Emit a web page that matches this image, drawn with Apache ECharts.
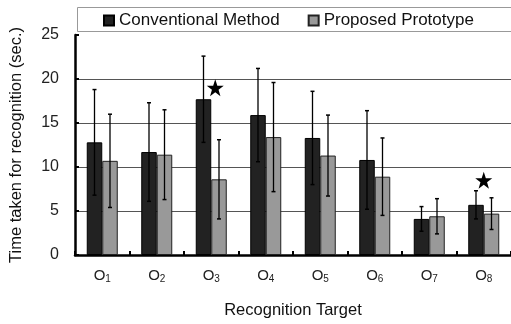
<!DOCTYPE html>
<html><head><meta charset="utf-8">
<script src="https://cdn.jsdelivr.net/npm/echarts@6/dist/echarts.min.js"></script>
<style>html,body{margin:0;padding:0;background:#fff}#c{width:511px;height:324px}</style>
</head><body><div id="c"></div>
<script>
var categories = ['1','2','3','4','5','6','7','8'];
var conventional = [12.8, 11.7, 17.7, 15.9, 13.3, 10.8, 4.1, 5.7];
var conventionalErr = [6.0, 5.6, 4.9, 5.3, 5.3, 5.6, 1.4, 1.6];
var proposed = [10.7, 11.4, 8.6, 13.4, 11.3, 8.9, 4.4, 4.7];
var proposedErr = [5.3, 5.1, 4.5, 6.2, 4.6, 4.4, 2.0, 1.8];
var stars = [['3', 19.0], ['8', 8.5]];
var yTicks = [0, 5, 10, 15, 20, 25];

var FONT = '"Liberation Sans", Arial, sans-serif';
var BW = 15.5;

function errSeries(name, vals, errs, off) {
  return {
    type: 'custom', name: name + ' err', silent: true, z: 5,
    renderItem: function (params, api) {
      var i = api.value(0);
      var v = api.value(1), e = api.value(2);
      var top = api.coord([i, v + e]);
      var bot = api.coord([i, v - e]);
      var x = top[0] + off;
      return {
        type: 'group', children: [
          {type: 'line', shape: {x1: x, y1: top[1], x2: x, y2: bot[1]}, style: {stroke: '#000', lineWidth: 1.3}},
          {type: 'line', shape: {x1: x - 2, y1: top[1], x2: x + 2, y2: top[1]}, style: {stroke: '#000', lineWidth: 1.5}},
          {type: 'line', shape: {x1: x - 2, y1: bot[1], x2: x + 2, y2: bot[1]}, style: {stroke: '#000', lineWidth: 1.5}}
        ]
      };
    },
    data: vals.map(function (v, i) { return [i, v, errs[i]]; })
  };
}

var chart = echarts.init(document.getElementById('c'));
chart.setOption({
  animation: false,
  textStyle: {fontFamily: FONT},
  graphic: [{type: 'rect', left: 75, top: 5, shape: {width: 450, height: 24}, style: {fill: 'none', stroke: '#999', lineWidth: 1}}],
  legend: {
    left: 98, top: 7, itemWidth: 10, itemHeight: 10, itemGap: 28,
    textStyle: {fontFamily: FONT, fontSize: 17, color: '#111'},
    data: [{name: 'Conventional Method', icon: 'rect'}, {name: 'Proposed Prototype', icon: 'rect'}]
  },
  grid: {left: 73, top: 35, width: 440, height: 224},
  xAxis: {
    type: 'category', data: categories,
    axisLine: {lineStyle: {color: '#000', width: 2.5}},
    axisTick: {show: true, inside: true, length: 4, lineStyle: {color: '#000', width: 2}},
    axisLabel: {
      margin: 13, color: '#222',
      formatter: function (v) { return 'O{s|' + v + '}'; },
      rich: {s: {fontSize: 10, verticalAlign: 'bottom', padding: [6, 0, 0, 0], fontFamily: FONT}},
      fontSize: 15, fontFamily: FONT
    },
    name: 'Recognition Target', nameLocation: 'middle', nameGap: 47,
    nameTextStyle: {fontSize: 16.5, color: '#111', fontFamily: FONT}
  },
  yAxis: {
    type: 'value', min: 0, max: 25, interval: 5,
    axisLine: {show: true, lineStyle: {color: '#000', width: 2.5}},
    axisTick: {show: true, inside: true, length: 4, lineStyle: {color: '#000', width: 2}},
    splitLine: {lineStyle: {color: ['#555', '#555', '#555', '#555', '#555', 'rgba(0,0,0,0)'], width: 1}},
    axisLabel: {fontSize: 16, color: '#222', margin: 16, fontFamily: FONT,
      formatter: function (v) { return yTicks.indexOf(v) >= 0 ? String(v) : ''; }},
    name: 'Time taken for recognition (sec.)', nameLocation: 'middle', nameGap: 50,
    nameTextStyle: {fontSize: 16.5, color: '#111', fontFamily: FONT}
  },
  series: [
    {name: 'Conventional Method', type: 'bar', barWidth: BW, barGap: '0%', data: conventional,
      itemStyle: {color: '#222', borderColor: '#000', borderWidth: 1}},
    {name: 'Proposed Prototype', type: 'bar', barWidth: BW, barGap: '0%', data: proposed,
      itemStyle: {color: '#999', borderColor: '#222', borderWidth: 1}},
    errSeries('Conventional Method', conventional, conventionalErr, -BW / 2),
    errSeries('Proposed Prototype', proposed, proposedErr, BW / 2),
    {type: 'scatter', name: 'star', silent: true, z: 6,
      symbol: 'path://M50,0 L61.8,35.1 L98.1,35.1 L68.7,56.8 L79.4,91.9 L50,70.2 L20.6,91.9 L31.3,56.8 L1.9,35.1 L38.2,35.1 Z',
      symbolSize: 17,
      itemStyle: {color: '#000', opacity: 1},
      data: [{value: stars[0], symbolOffset: [4, 0]}, {value: stars[1]}]}
  ]
});
</script></body></html>
